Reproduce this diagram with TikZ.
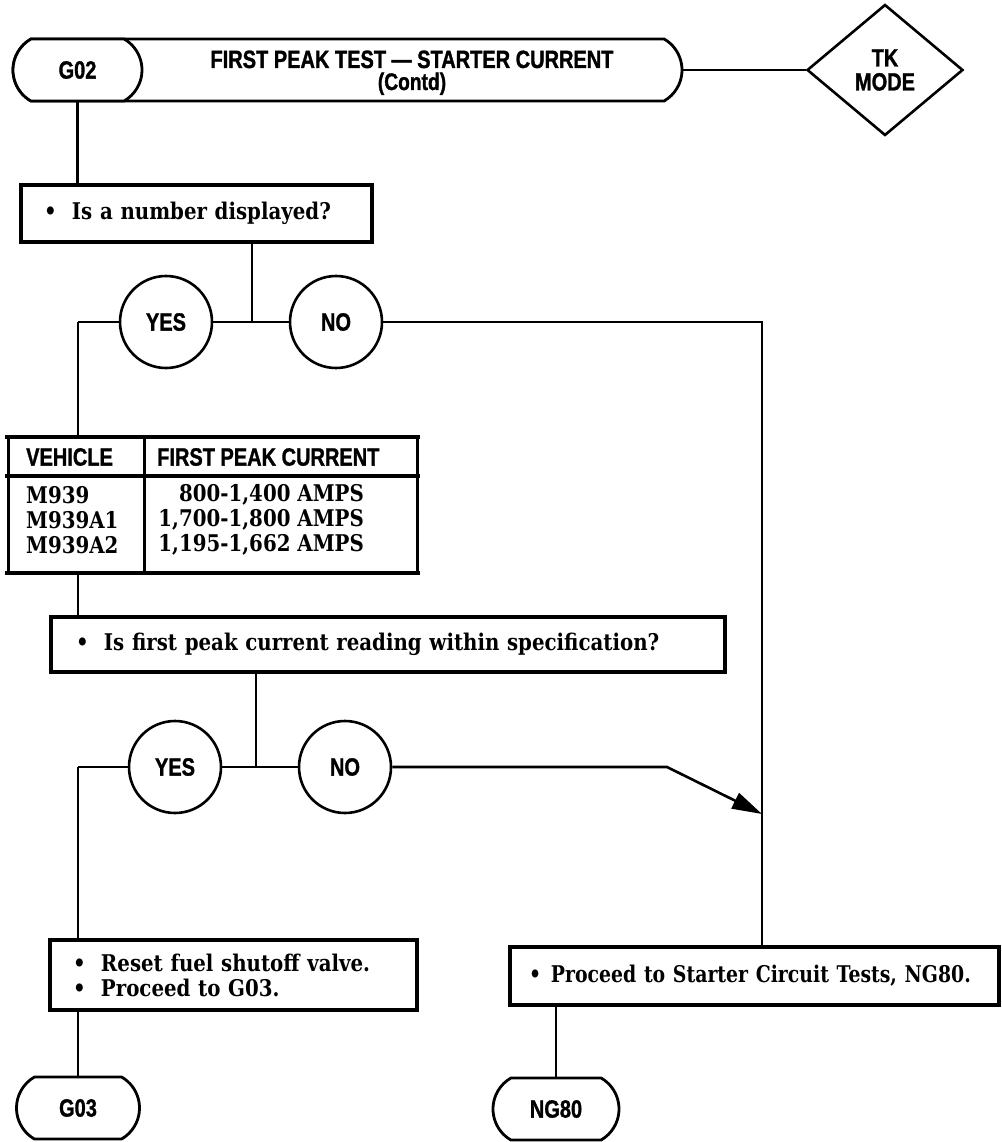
\documentclass[tikz,border=0pt]{standalone}
\usepackage{fontspec}
\usetikzlibrary{shapes.misc,shapes.geometric,arrows.meta}
\newfontfamily\hfont[FakeStretch=0.80,FakeBold=1.2]{Liberation Sans}
\newfontfamily\bfont[FakeStretch=0.86]{DejaVu Serif}
\newfontfamily\bfontn[FakeStretch=0.82]{DejaVu Serif}
\newcommand{\hd}{\hfont\bfseries\fontsize{25}{27}\selectfont}
\newcommand{\hds}{\hfont\bfseries\fontsize{24}{26}\selectfont}
\newcommand{\bd}{\bfont\bfseries\fontsize{23}{25}\selectfont}
\newcommand{\bdn}{\bfontn\bfseries\fontsize{23}{25}\selectfont}
\newcommand{\bul}{\makebox[28pt][l]{•}}
\begin{document}
\begin{tikzpicture}[x=1pt,y=-1pt,
  ln/.style={line width=2.6pt},
  box/.style={draw,line width=3.2pt,rectangle,inner ysep=0pt,align=left,fill=white,font=\bd},
  circ/.style={draw,line width=2.6pt,circle,minimum size=92pt,inner sep=0pt,font=\hd,fill=white},
  caps/.style={draw,line width=2.8pt,rounded rectangle,rounded rectangle arc length=120,inner sep=0pt,font=\hd,fill=white},
  tline/.style={line width=4.5pt},
  tvline/.style={line width=3pt}]
\useasboundingbox (0,0) rectangle (1001,1142);

% header
\node[caps,minimum width=669pt,minimum height=62pt] (title) at (347.5,70) {};
\node[caps,minimum width=129pt,minimum height=62pt] (g02) at (77.5,70) {G02};
\node[font=\hd,anchor=base,inner sep=0pt] (ttext) at (412,68) {FIRST PEAK TEST — STARTER CURRENT};
\node[font=\hds,anchor=base,inner sep=0pt] (contd) at (412,90) {(Contd)};
\node[draw,diamond,line width=2.6pt,minimum width=156pt,minimum height=131pt,inner sep=0pt,font=\hd,align=center] (tk) at (885,70) {TK\\[-3pt]MODE};
\draw[ln] (title.east) -- (tk.west);

% box 1
\node[box,minimum height=57pt,text width=305pt,inner xsep=23pt] (box1) at (196.5,213.5) {\bul Is a number displayed?};
\draw[ln] (g02.south) -- (g02.south |- box1.north);

\coordinate (j1) at (252,322);
\node[circ] (yes1) at (166,322) {YES};
\node[circ] (no1) at (336,322) {NO};
\coordinate (c1) at (78,322);
\coordinate (c2) at (762,322);
\draw[ln] (box1.south -| j1) -- (j1);
\draw[ln] (yes1.east) -- (no1.west);
\draw[ln] (yes1.west) -- (c1);

% table
\node[rectangle,inner sep=0pt,minimum width=410pt,minimum height=136pt] (tbl) at (212.5,505) {};
\draw[ln] (c1) -- (c1 |- tbl.north);
\draw[tline] (5,437) -- (420,437);
\draw[tline] (5,476) -- (420,476);
\draw[tline] (5,573) -- (420,573);
\draw[tvline] (8,437) -- (8,573);
\draw[tvline] (417,437) -- (417,573);
\draw[tvline] (144,437) -- (144,573);
\node[font=\hd,anchor=west,inner sep=0pt] (h1) at (26,457) {VEHICLE};
\node[font=\hd,anchor=west,inner sep=0pt] (h2) at (157,457) {FIRST PEAK CURRENT};
\node[font=\bd,anchor=west,inner sep=0pt] (r1a) at (26,495) {M939};
\node[font=\bd,anchor=west,inner sep=0pt] (r2a) at (26,520) {M939A1};
\node[font=\bd,anchor=west,inner sep=0pt] (r3a) at (26,545) {M939A2};
\node[font=\bd,anchor=east,inner sep=0pt] (r1b) at (364,495) {800-1,400 AMPS};
\node[font=\bd,anchor=east,inner sep=0pt] (r2b) at (364,520) {1,700-1,800 AMPS};
\node[font=\bd,anchor=east,inner sep=0pt] (r3b) at (364,545) {1,195-1,662 AMPS};

% box 2
\node[box,minimum height=55pt,text width=624pt,inner xsep=25pt] (box2) at (388,644.5) {\bul Is first peak current reading within specification?};
\draw[ln] (c1 |- tbl.south) -- (c1 |- box2.north);

\coordinate (j2) at (256,767);
\node[circ] (yes2) at (175,767) {YES};
\node[circ] (no2) at (345,767) {NO};
\coordinate (c3) at (78,767);
\coordinate (k1) at (667,767);
\coordinate (c4) at (762,814);
\draw[ln] (box2.south -| j2) -- (j2);
\draw[ln] (yes2.east) -- (no2.west);
\draw[ln] (yes2.west) -- (c3);
\draw[ln,-{Triangle[length=30pt,width=17pt]}] (no2.east) -- (k1) -- (c4);

% box 3, box 4
\node[box,minimum height=70pt,text width=321pt,inner xsep=23pt] (box3) at (233.5,975) {\bul Reset fuel shutoff valve.\\\bul Proceed to G03.};
\node[box,font=\bdn,minimum height=58pt,text width=451pt,inner xsep=19pt] (box4) at (754.5,976) {\makebox[22pt][l]{•}Proceed to Starter Circuit Tests, NG80.};
\draw[ln] (no1.east) -- (c2) -- (c2 |- box4.north);
\draw[ln] (c3) -- (c3 |- box3.north);

% terminals
\node[caps,minimum width=123pt,minimum height=62pt] (g03) at (78,1108) {G03};
\node[caps,minimum width=126pt,minimum height=62pt] (ng80) at (556,1109) {NG80};
\draw[ln] (box3.south -| g03) -- (g03.north);
\draw[ln] (box4.south -| ng80) -- (ng80.north);
\end{tikzpicture}
\end{document}
